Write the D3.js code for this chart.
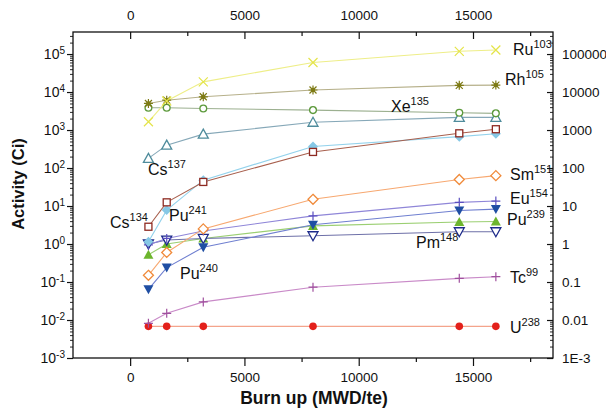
<!DOCTYPE html>
<html><head><meta charset="utf-8">
<script src="https://cdn.jsdelivr.net/npm/d3@7"></script>
<style>
body{margin:0;background:#fff;}
text{font-family:"Liberation Sans",Arial,sans-serif;fill:#111;}
</style></head>
<body><svg id="c" width="606" height="411"></svg>
<script>
// ---- data ----
const burnup = [800, 1600, 3200, 8000, 14400, 16000];
const ru103 = [1650, 5800, 18500, 60000, 118000, 128000];
const rh105 = [5000, 6100, 7500, 11300, 15000, 15200];
const xe135 = [3850, 3850, 3700, 3350, 2850, 2750];
const cs137 = [180, 400, 780, 1600, 2150, 2150];
const cs134 = [2.85, 12.5, 43, 265, 820, 1050];
const pu241 = [1.15, 7.8, 48, 370, 670, 800];
const sm151 = [0.15, 0.6, 2.5, 15, 50, 63];
const eu154 = [0.95, 1.4, 2.2, 5.5, 12.5, 13.5];
const pu239 = [0.064, 0.24, 0.82, 3.2, 7.6, 8.3];
const pu240 = [0.52, 1.0, 1.4, 3.0, 3.8, 3.9];
const pm148 = [1.0, 1.27, 1.4, 1.65, 2.1, 2.1];
const tc99 = [0.0082, 0.015, 0.030, 0.073, 0.125, 0.138];
const u238 = [0.0068, 0.0068, 0.0068, 0.0068, 0.0068, 0.0068];

const xMajor = [0, 5000, 10000, 15000];
const xMinor = [2500, 7500, 12500, 17500];
const yExp = [-3, -2, -1, 0, 1, 2, 3, 4, 5];
const yRightLabels = ["1E-3", "0.01", "0.1", "1", "10", "100", "1000", "10000", "100000"];

const series = [
  {name:"U238", v:u238, line:"#f4a48c", col:"#e3201b", m:"circleF"},
  {name:"Tc99", v:tc99, line:"#c98ac8", col:"#a0509e", m:"plus"},
  {name:"Pu240", v:pu240, line:"#9bcf72", col:"#6cb52d", m:"triUpF"},
  {name:"Pm148", v:pm148, line:"#6e70a8", col:"#1c2a8a", m:"triDownO"},
  {name:"Pu239", v:pu239, line:"#6f7fd0", col:"#1f4ea3", m:"triDownF"},
  {name:"Eu154", v:eu154, line:"#8f86d8", col:"#5b4fc0", m:"plus"},
  {name:"Sm151", v:sm151, line:"#f7a870", col:"#f08a3a", m:"diamondO"},
  {name:"Pu241", v:pu241, line:"#93d2ec", col:"#86c8e6", m:"diamondF"},
  {name:"Cs134", v:cs134, line:"#a8604e", col:"#8e2a22", m:"squareO"},
  {name:"Cs137", v:cs137, line:"#86a8b8", col:"#4f8c9c", m:"triUpO"},
  {name:"Xe135", v:xe135, line:"#9cb090", col:"#5d9a3c", m:"circleO"},
  {name:"Rh105", v:rh105, line:"#b6b08a", col:"#7d7a14", m:"star"},
  {name:"Ru103", v:ru103, line:"#eeee88", col:"#e4e44a", m:"x"}
];

const labels = [
  {base:"Ru", sup:"103", x:513, y:55},
  {base:"Rh", sup:"105", x:505, y:85},
  {base:"Xe", sup:"135", x:391, y:112},
  {base:"Cs", sup:"137", x:148, y:175},
  {base:"Sm", sup:"151", x:510, y:180},
  {base:"Eu", sup:"154", x:510, y:204},
  {base:"Pu", sup:"239", x:507, y:225},
  {base:"Pm", sup:"148", x:416, y:248},
  {base:"Tc", sup:"99", x:510, y:283},
  {base:"U", sup:"238", x:510, y:333},
  {base:"Cs", sup:"134", x:110, y:228},
  {base:"Pu", sup:"241", x:169, y:221},
  {base:"Pu", sup:"240", x:180, y:279}
];

// ---- layout ----
const L = 73, R = 553, T = 32, B = 358;
const svg = d3.select("#c");
const x = d3.scaleLinear().domain([-2500, 18500]).range([L, R]);
const y = d3.scaleLog().domain([1e-3, Math.pow(10, 5.58)]).range([B, T]);

svg.append("rect").attr("x", L).attr("y", T).attr("width", R - L).attr("height", B - T)
  .attr("fill", "none").attr("stroke", "#111").attr("stroke-width", 1.3);

function styleAxis(g){ g.select(".domain").remove(); g.selectAll("line").attr("stroke","#111").attr("stroke-width",1.2); }

const bMaj = svg.append("g").attr("transform", `translate(0,${B})`)
  .call(d3.axisBottom(x).tickValues(xMajor).tickSize(8).tickPadding(6).tickFormat(d3.format("d")));
styleAxis(bMaj); bMaj.selectAll("text").attr("font-size", 13.5).attr("fill","#111");
const bMin = svg.append("g").attr("transform", `translate(0,${B})`)
  .call(d3.axisBottom(x).tickValues(xMinor).tickSize(4).tickFormat(""));
styleAxis(bMin);
const tMaj = svg.append("g").attr("transform", `translate(0,${T})`)
  .call(d3.axisTop(x).tickValues(xMajor).tickSize(-7).tickPadding(12).tickFormat(d3.format("d")));
styleAxis(tMaj); tMaj.selectAll("text").attr("font-size", 13.5).attr("fill","#111");
const tMin = svg.append("g").attr("transform", `translate(0,${T})`)
  .call(d3.axisTop(x).tickValues(xMinor).tickSize(-4).tickFormat(""));
styleAxis(tMin);

const minorVals = [];
yExp.forEach(e => { if (e < 5) for (let k = 2; k <= 9; k++) minorVals.push(k * Math.pow(10, e)); });
for (let k = 2; k <= 3; k++) minorVals.push(k * 1e5);
const majorVals = yExp.map(e => Math.pow(10, e));

const lMaj = svg.append("g").attr("transform", `translate(${L},0)`)
  .call(d3.axisLeft(y).tickValues(majorVals).tickSize(6).tickFormat(""));
styleAxis(lMaj);
const lMin = svg.append("g").attr("transform", `translate(${L},0)`)
  .call(d3.axisLeft(y).tickValues(minorVals).tickSize(3).tickFormat(""));
styleAxis(lMin); lMin.selectAll("line").attr("stroke-width",0.9);
const rMaj = svg.append("g").attr("transform", `translate(${R},0)`)
  .call(d3.axisRight(y).tickValues(majorVals).tickSize(-6).tickFormat(""));
styleAxis(rMaj);
const rMin = svg.append("g").attr("transform", `translate(${R},0)`)
  .call(d3.axisRight(y).tickValues(minorVals).tickSize(-3).tickFormat(""));
styleAxis(rMin); rMin.selectAll("line").attr("stroke-width",0.9);

yExp.forEach(e => {
  const t = svg.append("text").attr("x", 65).attr("y", y(Math.pow(10, e)) + 5)
    .attr("text-anchor", "end").attr("font-size", 14);
  t.append("tspan").text("10");
  t.append("tspan").attr("font-size", 10).attr("dy", -5).text(String(e));
});
yExp.forEach((e, i) => {
  svg.append("text").attr("x", 562).attr("y", y(Math.pow(10, e)) + 5)
    .attr("font-size", 13.5).text(yRightLabels[i]);
});

svg.append("text").attr("transform", `translate(24,184) rotate(-90)`).attr("text-anchor","middle")
  .attr("font-size", 16.5).attr("font-weight","bold").text("Activity (Ci)");
svg.append("text").attr("x", 314).attr("y", 404).attr("text-anchor","middle")
  .attr("font-size", 17.5).attr("font-weight","bold").text("Burn up (MWD/te)");

const line = d3.line().x((d, i) => x(burnup[i])).y(d => y(d));
function marker(g, m, col){
  const sw = 1.2;
  switch(m){
    case "circleF": g.append("circle").attr("r",3.8).attr("fill",col); break;
    case "circleO": g.append("circle").attr("r",3.4).attr("fill","#fff").attr("stroke",col).attr("stroke-width",1.3); break;
    case "plus": g.append("path").attr("d","M-4.5,0H4.5M0,-4.5V4.5").attr("stroke",col).attr("stroke-width",sw); break;
    case "x": g.append("path").attr("d","M-4.5,-4.5L4.5,4.5M-4.5,4.5L4.5,-4.5").attr("stroke",col).attr("stroke-width",sw); break;
    case "star":
      g.append("path").attr("d","M-4.5,0H4.5M0,-4.5V4.5M-3.5,-3.5L3.5,3.5M-3.5,3.5L3.5,-3.5").attr("stroke",col).attr("stroke-width",sw);
      g.append("circle").attr("r",2.2).attr("fill",col); break;
    case "triUpF": g.append("path").attr("d","M0,-5L5,4H-5Z").attr("fill",col); break;
    case "triUpO": g.append("path").attr("d","M0,-5L5,4H-5Z").attr("fill","#fff").attr("stroke",col).attr("stroke-width",1.3); break;
    case "triDownF": g.append("path").attr("d","M0,5L5,-4H-5Z").attr("fill",col); break;
    case "triDownO": g.append("path").attr("d","M0,5L5,-4H-5Z").attr("fill","#fff").attr("stroke",col).attr("stroke-width",1.3); break;
    case "diamondF": g.append("path").attr("d","M0,-5L5,0L0,5L-5,0Z").attr("fill",col); break;
    case "diamondO": g.append("path").attr("d","M0,-5L5,0L0,5L-5,0Z").attr("fill","#fff").attr("stroke",col).attr("stroke-width",1.3); break;
    case "squareO": g.append("rect").attr("x",-3.5).attr("y",-3.5).attr("width",7).attr("height",7).attr("fill","#fff").attr("stroke",col).attr("stroke-width",1.3); break;
  }
}
series.forEach(s => {
  svg.append("path").datum(s.v).attr("d", line).attr("fill","none").attr("stroke", s.line).attr("stroke-width", 1.1);
});
series.forEach(s => {
  s.v.forEach((v, i) => {
    const g = svg.append("g").attr("transform", `translate(${x(burnup[i])},${y(v)})`);
    marker(g, s.m, s.col);
  });
});

labels.forEach(l => {
  const t = svg.append("text").attr("x", l.x).attr("y", l.y).attr("font-size", 16);
  t.append("tspan").text(l.base);
  t.append("tspan").attr("font-size", 11).attr("dy", -7).text(l.sup);
});
</script></body></html>
